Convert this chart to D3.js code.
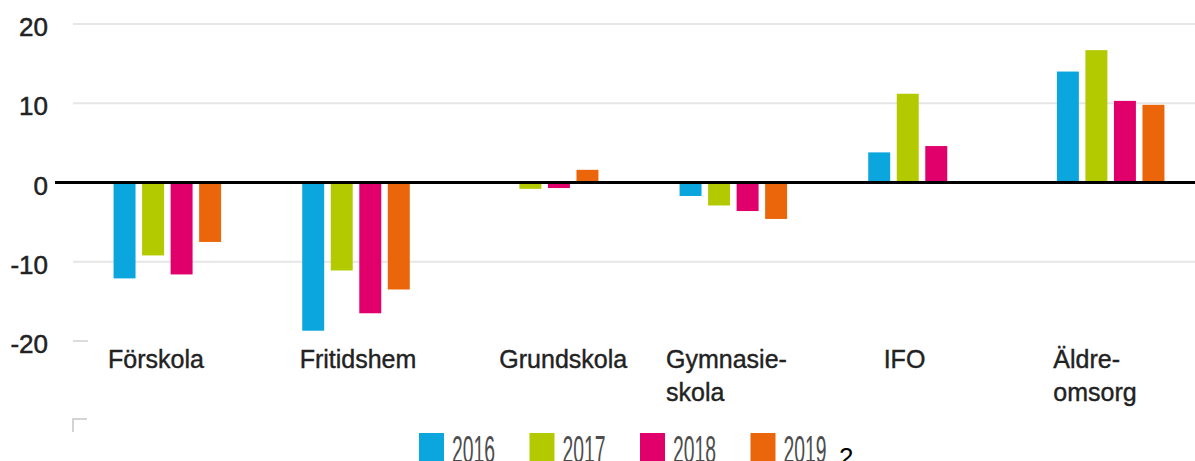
<!DOCTYPE html>
<html>
<head>
<meta charset="utf-8">
<script src="https://cdn.jsdelivr.net/npm/d3@7"></script>
<style>
  body { margin: 0; background: #fff; }
  svg { display: block; }
  text { font-family: "Liberation Sans", Arial, sans-serif; }
</style>
</head>
<body>
<script>
// kategorier och år
const categories = ["Förskola", "Fritidshem", "Grundskola", "Gymnasie-skola", "IFO", "Äldre-omsorg"];
const categoryLines = [["Förskola"], ["Fritidshem"], ["Grundskola"], ["Gymnasie-", "skola"], ["IFO"], ["Äldre-", "omsorg"]];
const years = ["2016", "2017", "2018", "2019"];

// värden per år
const values2016 = [-12.1, -18.7, 0, -1.7, 3.8, 14.0];
const values2017 = [-9.2, -11.1, -0.8, -2.9, 11.2, 16.7];
const values2018 = [-11.6, -16.5, -0.7, -3.6, 4.6, 10.3];
const values2019 = [-7.5, -13.5, 1.6, -4.6, 0, 9.8];

const yTicks = [20, 10, 0, -10, -20];
const colors = ["#0aa6dd", "#b3c900", "#e1006b", "#eb650a"];

// etiketternas vänsterkant räknat från kategorins början
const labelInset = [35, 38, 49, 27, 56, 37];

const series = [values2016, values2017, values2018, values2019];
const rows = categories.map((c, i) => ({
  cat: c,
  vals: years.map((y, j) => ({ year: y, value: series[j][i] }))
}));

const width = 1195, height = 461;

const svg = d3.select("body").append("svg")
  .attr("width", width)
  .attr("height", height);

const y = d3.scaleLinear()
  .domain([-20, 20])
  .range([341, 24]);

const x0 = d3.scaleBand()
  .domain(categories)
  .range([73, 1205])
  .padding(0);

const x1 = d3.scaleBand()
  .domain(years)
  .range([0, x0.bandwidth() * 0.57])
  .paddingInner(0.23)
  .paddingOuter(0);

const groupOffset = (x0.bandwidth() - x0.bandwidth() * 0.57) / 2;
const color = d3.scaleOrdinal().domain(years).range(colors);

// rutnät
svg.append("g")
  .selectAll("line")
  .data(yTicks.filter(d => d !== 0 && d !== -20))
  .enter().append("line")
  .attr("x1", 73).attr("x2", width)
  .attr("y1", d => y(d)).attr("y2", d => y(d))
  .attr("stroke", "#e6e6e6")
  .attr("stroke-width", 2);

// kort streck vid -20
svg.append("line")
  .attr("x1", 73).attr("x2", 88)
  .attr("y1", y(-20)).attr("y2", y(-20))
  .attr("stroke", "#dcdcdc").attr("stroke-width", 2);

// y-axel etiketter
svg.append("g")
  .selectAll("text")
  .data(yTicks)
  .enter().append("text")
  .attr("x", 48)
  .attr("y", d => y(d) + 12)
  .attr("text-anchor", "end")
  .attr("font-size", 26)
  .attr("fill", "#222")
  .attr("stroke", "#222")
  .attr("stroke-width", 0.5)
  .text(d => d);

// staplar
const groups = svg.append("g")
  .selectAll("g")
  .data(rows)
  .enter().append("g")
  .attr("transform", d => `translate(${x0(d.cat) + groupOffset},0)`);

groups.selectAll("rect")
  .data(d => d.vals)
  .enter().append("rect")
  .attr("x", d => x1(d.year))
  .attr("width", x1.bandwidth())
  .attr("y", d => y(Math.max(0, d.value)))
  .attr("height", d => Math.abs(y(d.value) - y(0)))
  .attr("fill", d => color(d.year));

// nollinje
svg.append("line")
  .attr("x1", 55).attr("x2", width)
  .attr("y1", y(0)).attr("y2", y(0))
  .attr("stroke", "#000")
  .attr("stroke-width", 3);

// kategorietiketter
const labels = svg.append("g")
  .selectAll("text")
  .data(rows)
  .enter().append("text")
  .attr("font-size", 25)
  .attr("fill", "#222")
  .attr("stroke", "#222")
  .attr("stroke-width", 0.4)
  .attr("transform", (d, i) => `translate(${x0(d.cat) + labelInset[i]},368)`);

labels.selectAll("tspan")
  .data((d, i) => categoryLines[i])
  .enter().append("tspan")
  .attr("x", 0)
  .attr("y", (d, i) => i * 33)
  .text(d => d);

// liten hörnmarkering
svg.append("path")
  .attr("d", "M73,432 V419 H87")
  .attr("fill", "none")
  .attr("stroke", "#d4d4d4")
  .attr("stroke-width", 2);

// legend
const legend = svg.append("g")
  .selectAll("g")
  .data(years)
  .enter().append("g")
  .attr("transform", (d, i) => `translate(${419 + i * 110.5},433)`);

legend.append("rect")
  .attr("width", 25)
  .attr("height", 30)
  .attr("fill", d => color(d));

legend.append("text")
  .attr("x", 33)
  .attr("y", 30)
  .attr("font-family", "'Liberation Sans Narrow', 'Liberation Sans', sans-serif")
  .attr("font-size", 38)
  .attr("textLength", 43)
  .attr("lengthAdjust", "spacingAndGlyphs")
  .attr("fill", "#4d4d4d")
  .text(d => d);

svg.append("text")
  .attr("x", 839)
  .attr("y", 466)
  .attr("font-family", "'DejaVu Serif', serif")
  .attr("font-size", 26)
  .attr("fill", "#000")
  .text("2");
</script>
</body>
</html>
